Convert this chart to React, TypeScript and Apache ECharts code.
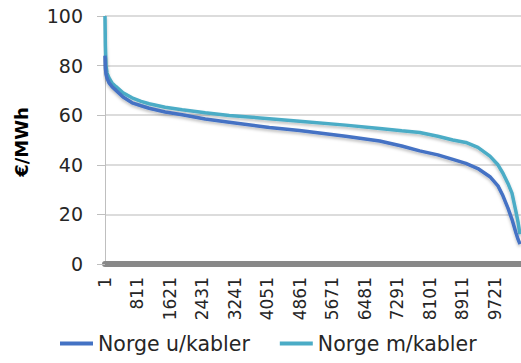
import React, { useEffect, useRef } from "react";
import * as echarts from "echarts";

// hours (index along the duration curve, 0-based)
const hours = [0, 10, 25, 50, 100, 175, 275, 450, 675, 900, 1100, 1500, 1925, 2500, 3100, 4100, 4850, 6000, 6850, 7400, 7850, 8300, 8675, 9000, 9300, 9600, 9800, 9925, 10050, 10150, 10250, 10300, 10350];
const norgeUten = [84, 79, 76.5, 75, 73, 71.5, 70, 67.3, 65, 63.8, 62.8, 61.3, 60.2, 58.5, 57.2, 55, 53.8, 51.5, 49.6, 47.6, 45.6, 44, 42.2, 40.6, 38.5, 35.2, 31.5, 27.5, 22.5, 18, 12.5, 10, 8];
const norgeMed = [100, 88, 80, 77, 75, 73, 71.5, 69, 67, 65.6, 64.6, 63.2, 62.2, 61, 59.9, 58.6, 57.6, 56, 54.6, 53.7, 53, 51.5, 50, 49, 47, 43.5, 40, 36.6, 32.5, 28.6, 21, 17, 12];
const seriesNames = ["Norge u/kabler", "Norge m/kabler"];
const yAxisName = "€/MWh";
const xTickStep = 810;

export default function App() {
  const ref = useRef<HTMLDivElement>(null);
  useEffect(() => {
    if (!ref.current) return;
    const chart = echarts.init(ref.current, undefined, { renderer: "svg" });
    const font = "'DejaVu Sans'";
    const mk = (vals: number[]) => hours.map((h, i) => [h, vals[i]]);
    chart.setOption({
      animation: false,
      textStyle: { fontFamily: font },
      grid: { left: 105, right: 0, top: 16, bottom: 99, containLabel: false },
      xAxis: {
        type: "value",
        min: 0,
        max: 10375,
        interval: xTickStep,
        offset: 3,
        axisLine: { show: true, lineStyle: { color: "#888888", width: 6 } },
        axisTick: { show: false },
        splitLine: { show: false },
        axisLabel: {
          rotate: 90,
          margin: 10,
          fontSize: 17,
          fontFamily: font,
          color: "#262626",
          showMaxLabel: false,
          formatter: (v: number) => String(v + 1),
        },
      },
      yAxis: {
        type: "value",
        min: 0,
        max: 100,
        interval: 20,
        axisLine: { show: true, lineStyle: { color: "#bfbfbf", width: 1 } },
        axisTick: { show: true, inside: false, length: 8, lineStyle: { color: "#bfbfbf" } },
        splitLine: { show: true, lineStyle: { color: "#dcdcdc", width: 2 } },
        axisLabel: { margin: 22, fontSize: 19, fontFamily: font, color: "#262626" },
      },
      legend: {
        left: 55,
        top: 328,
        itemGap: 30,
        itemWidth: 33,
        itemHeight: 4,
        icon: "rect",
        textStyle: { fontSize: 20.5, fontFamily: font, color: "#262626", padding: [0, 0, 0, 0] },
        data: seriesNames,
      },
      graphic: [
        {
          type: "text",
          x: 21,
          y: 142,
          rotation: Math.PI / 2,
          style: {
            text: yAxisName,
            fontSize: 18,
            fontWeight: "bold",
            fontFamily: font,
            fill: "#000000",
            align: "center",
            verticalAlign: "middle",
          },
        },
      ],
      series: [
        {
          name: seriesNames[0],
          type: "line",
          data: mk(norgeUten),
          showSymbol: false,
          smooth: false,
          color: "#4472C4",
          lineStyle: { width: 3.5, color: "#4472C4", shadowColor: "rgba(0,0,0,0.25)", shadowBlur: 3, shadowOffsetY: 2 },
          z: 3,
        },
        {
          name: seriesNames[1],
          type: "line",
          data: mk(norgeMed),
          showSymbol: false,
          smooth: false,
          color: "#4BACC6",
          lineStyle: { width: 3.5, color: "#4BACC6", shadowColor: "rgba(0,0,0,0.25)", shadowBlur: 3, shadowOffsetY: 2 },
          z: 2,
        },
      ],
    });
    return () => chart.dispose();
  }, []);
  return <div ref={ref} style={{ width: 521, height: 363, position: "absolute", left: 0, top: 0 }} />;
}
